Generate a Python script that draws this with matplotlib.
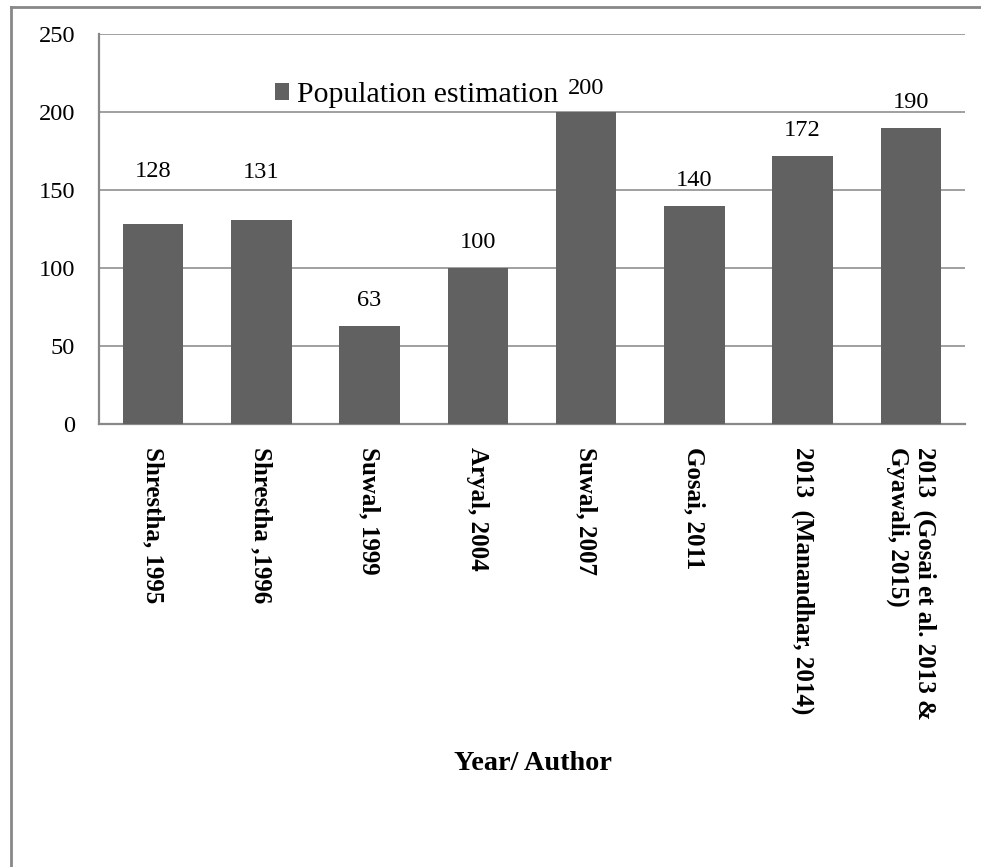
import matplotlib.pyplot as plt
from matplotlib.lines import Line2D

plt.rcParams['font.family'] = ['Liberation Serif', 'DejaVu Serif']

# population estimates by study
authors = ['Shrestha, 1995', 'Shrestha ,1996', 'Suwal, 1999', 'Aryal, 2004',
           'Suwal, 2007', 'Gosai, 2011', '2013  (Manandhar, 2014)',
           '2013  (Gosai et al. 2013 &\nGyawali, 2015)']
population = [128, 131, 63, 100, 200, 140, 172, 190]
y_ticks = [0, 50, 100, 150, 200, 250]

# how far each value label sits above its bar (points)
label_pad = [38, 34, 18, 18, 17, 18, 18, 18]

bar_color = '#616161'
line_color = '#888888'
grid_color = '#a0a0a0'

fig = plt.figure(figsize=(9.81, 8.67), dpi=100)
ax = fig.add_axes([0.1009, 0.5110, 0.8828, 0.4498])

x = range(len(authors))
bars = ax.bar(x, population, width=0.56, color=bar_color, zorder=3,
              label='Population estimation')

ax.set_ylim(0, 250)
ax.set_xlim(-0.5, len(authors) - 0.5)
ax.set_yticks(y_ticks)
ax.set_yticklabels([str(t) for t in y_ticks], fontsize=17.6)
ax.yaxis.grid(True, color=grid_color, linewidth=1.4, zorder=0)
ax.tick_params(axis='y', length=0, pad=17)

ax.set_xticks(list(x))
ax.set_xticklabels(authors, rotation=-90, fontsize=18, fontweight='bold',
                   va='top', ha='center', multialignment='left')
ax.tick_params(axis='x', length=0, pad=16.5)

for s in ['top', 'right']:
    ax.spines[s].set_visible(False)
for s in ['left', 'bottom']:
    ax.spines[s].set_color(line_color)
    ax.spines[s].set_linewidth(1.6)

for b, v, pad in zip(bars, population, label_pad):
    ax.annotate(str(v), (b.get_x() + b.get_width() / 2, v),
                xytext=(0, pad), textcoords='offset points',
                ha='center', va='center', fontsize=17.6)

ax.legend(loc='center left', bbox_to_anchor=(0.2803, 0.8904),
          bbox_transform=fig.transFigure, frameon=False, fontsize=21.5,
          handlelength=0.47, handleheight=0.47, handletextpad=0.27,
          borderpad=0, borderaxespad=0)

fig.text(533 / 981, 1 - 763 / 867, 'Year/ Author', ha='center', va='center',
         fontsize=20.3, fontweight='bold')

# outer frame, left and top edges only
fig.add_artist(Line2D([11 / 981, 11 / 981], [0, 1 - 7 / 867],
                      color=line_color, linewidth=2, transform=fig.transFigure))
fig.add_artist(Line2D([11 / 981, 1], [1 - 7 / 867, 1 - 7 / 867],
                      color=line_color, linewidth=2, transform=fig.transFigure))

fig.savefig('out.png', dpi=100)
